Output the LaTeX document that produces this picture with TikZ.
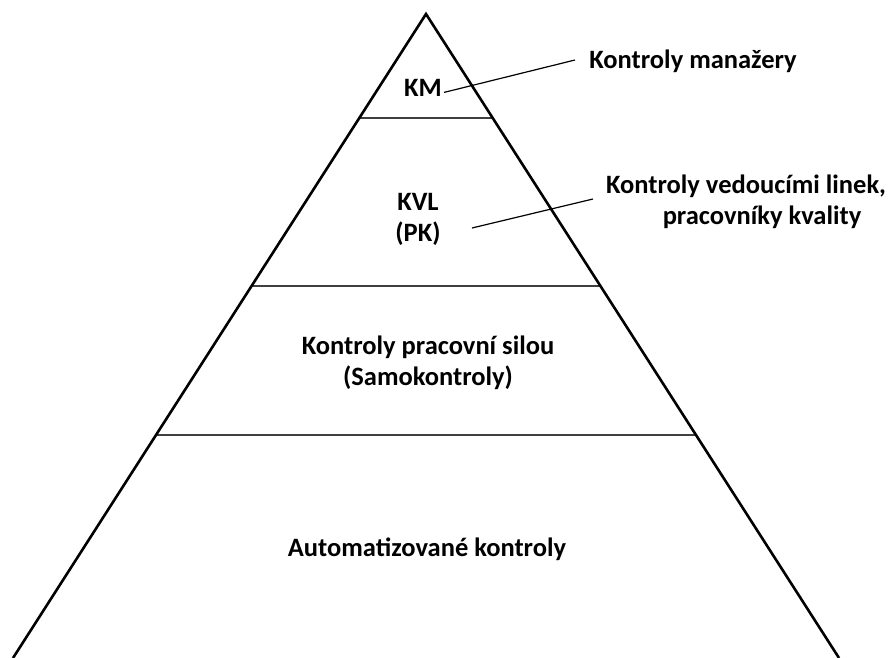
\documentclass[tikz,border=0pt]{standalone}
\usepackage{fontspec}
\setmainfont{Carlito}
\usetikzlibrary{calc}
\begin{document}
\begin{tikzpicture}[x=1pt,y=-1pt,
  lbl/.style={font=\bfseries\fontsize{26.5}{32}\selectfont, inner sep=0pt, anchor=base},
  side/.style={line width=2.6pt, black},
  tier/.style={line width=1.6pt, black!75},
  pointer/.style={line width=1.2pt, black}]
\useasboundingbox (0,0) rectangle (891,658);
\coordinate (apex) at (426,14);
\coordinate (bl) at (13,658);
\coordinate (br) at (839,658);
% tier lines
\draw[tier] ($(apex)!0.1615!(bl)$) -- ($(apex)!0.1615!(br)$);
\draw[tier] ($(apex)!0.4224!(bl)$) -- ($(apex)!0.4224!(br)$);
\draw[tier] ($(apex)!0.6537!(bl)$) -- ($(apex)!0.6537!(br)$);
\begin{scope}
\clip (0,0) rectangle (891,658);
\draw[side, line join=miter] (bl) -- (apex) -- (br);
\end{scope}
% labels inside
\node[lbl] (km) at (423,97) {KM};
\node[lbl] (kvl1) at (418,210) {KVL};
\node[lbl] (kvl2) at (418,241) {(PK)};
\node[lbl] (kps1) at (428,354) {Kontroly pracovní silou};
\node[lbl] (kps2) at (428,385) {(Samokontroly)};
\node[lbl] (auto) at (427,556) {Automatizované kontroly};
% labels outside
\node[lbl] (kmlab) at (693,69) {Kontroly manažery};
\node[lbl] (vl1) at (746,193) {Kontroly vedoucími linek,};
\node[lbl] (vl2) at (762,224) {pracovníky kvality};
% pointers
\coordinate (p1b) at (575,60);
\coordinate (p2a) at (472,228);
\coordinate (p2b) at (593,199);
\draw[pointer] ($(km.east)+(2,4)$) -- (p1b);
\draw[pointer] (p2a) -- (p2b);
\end{tikzpicture}
\end{document}
